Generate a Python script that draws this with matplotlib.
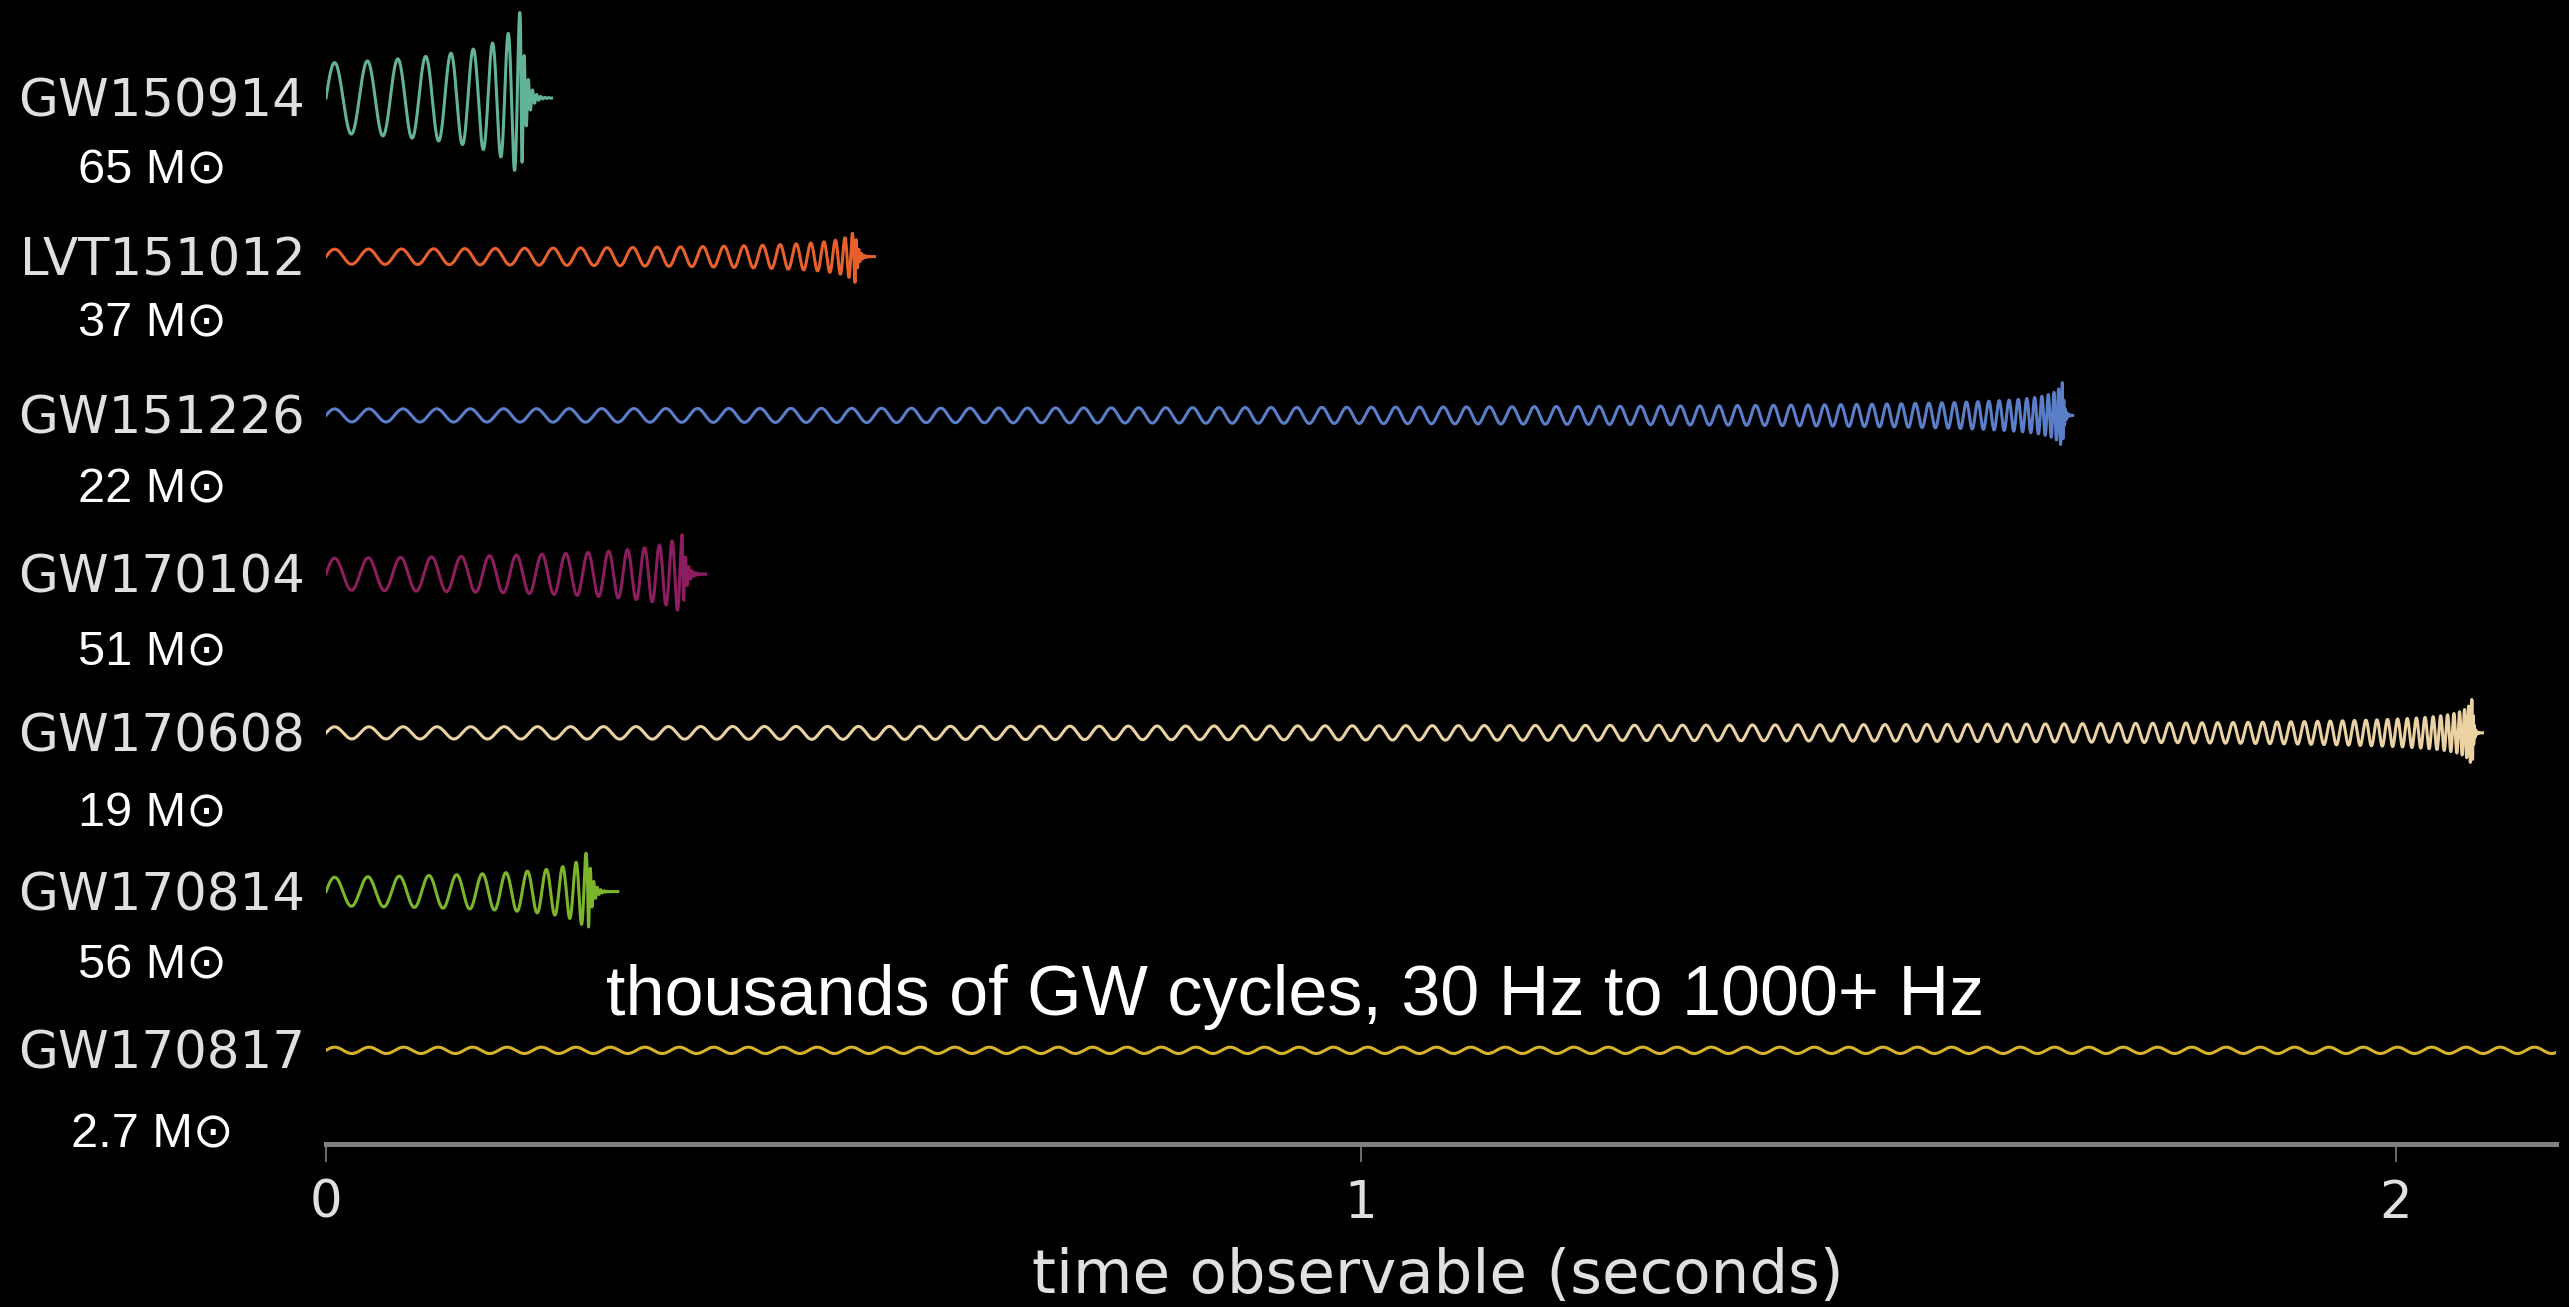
import numpy as np
import matplotlib.pyplot as plt

# events, top to bottom
events = ["GW150914", "LVT151012", "GW151226", "GW170104", "GW170608", "GW170814", "GW170817"]
masses = ["65", "37", "22", "51", "19", "56", "2.7"]
colors = ["#62b39a", "#e8612c", "#5a7ec8", "#8c1d5e", "#ebd2a2", "#7cb52c", "#d6b32a"]

# (seconds after the 30 Hz start)
t_merge = [0.188, 0.511, 1.678, 0.344, 2.074, 0.253, 60.0]   # peak of the burst
t_stop = [0.218, 0.530, 1.688, 0.367, 2.084, 0.282, 2.155]   # where the trace ends
# half height of the wiggle at the start and at the peak (in row spacings)
amp_start = [0.22, 0.047, 0.041, 0.10, 0.038, 0.09, 0.02]
amp_peak = [0.56, 0.17, 0.21, 0.25, 0.22, 0.27, 0.024]
f_ring = [250, 400, 700, 300, 900, 300, 1000]   # Hz
f_start = 30.0

# layout
name_x = -0.02
mass_x = -0.168
mass_dy = [0.536, 0.504, 0.548, 0.567, 0.59, 0.55, 0.61]


def chirp(t, tc, a0, ap, fr):
    # newtonian inspiral from f_start up to the peak, then a damped ringdown
    fp = f_start * (ap / a0) ** 1.5
    T = tc / (1 - (f_start / fp) ** (8 / 3))
    h = np.zeros_like(t)
    ins = t <= tc
    u = 1 - t[ins] / T
    f = f_start * u ** (-3 / 8)
    ph = 2 * np.pi * f_start * T * 1.6 * (1 - u ** (5 / 8))
    h[ins] = a0 * (f / f_start) ** (2 / 3) * np.sin(ph)
    uc = 1 - tc / T
    phc = 2 * np.pi * f_start * T * 1.6 * (1 - uc ** (5 / 8))
    rd = ~ins
    dt = t[rd] - tc
    tau = 1.2 / fr
    h[rd] = ap * np.exp(-dt / tau) * np.sin(phc + 2 * np.pi * fr * dt)
    return h


fig = plt.figure(figsize=(25.69, 13.07), dpi=100, facecolor="black")
ax = fig.add_axes([326 / 2569, 163 / 1307, 2230 / 2569, 1144 / 1307])
ax.set_facecolor("black")

for i in range(len(events)):
    t = np.arange(0, t_stop[i], 2e-5)
    h = chirp(t, t_merge[i], amp_start[i], amp_peak[i], f_ring[i])
    ax.plot(t, -i + h, color=colors[i], lw=2.2)
    ax.text(name_x, -i - 0.117, events[i], ha="right", va="baseline",
            fontsize=37, color="#e0e0e0", family="DejaVu Sans")
    ax.text(mass_x, -i - mass_dy[i], masses[i] + " M\u2299", ha="center", va="baseline",
            fontsize=35, color="white", family=["Liberation Sans", "DejaVu Sans"])

ax.text(0.271, -5.78, "thousands of GW cycles, 30 Hz to 1000+ Hz", ha="left", va="baseline",
        fontsize=50.5, color="white", family=["Liberation Sans", "DejaVu Sans"])

ax.set_xlim(0, 2.155)
ax.set_ylim(-6.59, 0.617)
ax.set_xticks([0, 1, 2])
ax.set_yticks([])
for s in ["left", "top", "right"]:
    ax.spines[s].set_visible(False)
ax.spines["bottom"].set_color("#808080")
ax.spines["bottom"].set_linewidth(3.6)
ax.tick_params(axis="x", colors="#808080", length=13, width=1.2, pad=12,
               labelsize=37, labelcolor="#e0e0e0")

fig.text(1438 / 2569, 14 / 1307, "time observable (seconds)", ha="center", va="baseline",
         fontsize=44, color="#e0e0e0", family="DejaVu Sans")

fig.savefig("out.png", dpi=100, facecolor="black")
